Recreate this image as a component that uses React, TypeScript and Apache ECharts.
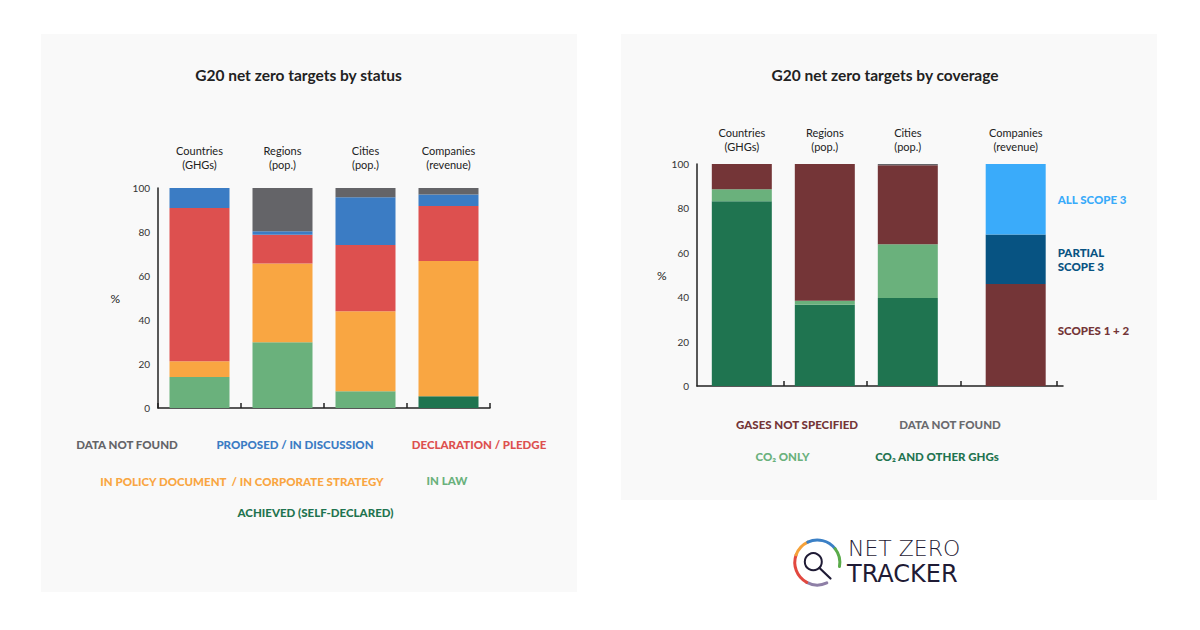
import { useEffect, useRef } from "react";
import * as echarts from "echarts";

// ---------- data: status chart ----------
const statusCategories = ["Countries\n(GHGs)", "Regions\n(pop.)", "Cities\n(pop.)", "Companies\n(revenue)"];
const achievedSelfDeclared = [0, 0, 0, 5.3];
const inLaw = [14.1, 29.9, 7.6, 0];
const inPolicyDocument = [7.2, 35.8, 36.4, 61.5];
const declarationPledge = [69.6, 13.1, 30.1, 25.0];
const proposedInDiscussion = [9.1, 1.5, 21.7, 5.3];
const statusDataNotFound = [0, 19.7, 4.2, 2.9];

// ---------- data: coverage chart ----------
const coverageCategories = ["Countries\n(GHGs)", "Regions\n(pop.)", "Cities\n(pop.)", "Companies\n(revenue)"];
const co2AndOtherGhgs = [83.2, 36.6, 39.6, 0];
const co2Only = [5.4, 1.8, 24.2, 0];
const gasesNotSpecified = [11.4, 61.6, 35.6, 0];
const coverageDataNotFound = [0, 0, 0.6, 0];
const scopes12 = [0, 0, 0, 45.9];
const partialScope3 = [0, 0, 0, 22.3];
const allScope3 = [0, 0, 0, 31.8];

// ---------- layout (slot positions on the coverage x axis) ----------
const coverageSlots = [0.54, 1.54, 2.54, 3.84];
const coverageTickPositions = [1.05, 2.05, 3.18, 4.34];
const coverageAxisMax = 4.41;

const FONT = "Lato, 'Open Sans', sans-serif";
const INK = "#222";
const C = {
  gray: "#646468",
  blue: "#3b7cc4",
  red: "#dd504f",
  orange: "#f9a642",
  lightGreen: "#6ab17c",
  darkGreen: "#1f7450",
  maroon: "#743537",
  darkBlue: "#075382",
  lightBlue: "#3aabfa",
};

function nearestSlot(v: number) {
  let best = 0;
  coverageSlots.forEach((s, i) => {
    if (Math.abs(s - v) < Math.abs(coverageSlots[best] - v)) best = i;
  });
  return best;
}

function statusBar(name: string, data: number[], color: string) {
  return {
    type: "bar",
    name,
    stack: "status",
    xAxisIndex: 0,
    yAxisIndex: 0,
    barWidth: 60,
    data,
    itemStyle: { color },
  };
}

function coverageBar(name: string, data: number[], color: string, labelText?: string, labelOffset?: number[]) {
  return {
    type: "bar",
    name,
    stack: "coverage",
    xAxisIndex: 2,
    yAxisIndex: 1,
    barWidth: 60,
    encode: { x: 1, y: 0 },
    data: data.map((v, i) => {
      const item: any = { value: [v, coverageSlots[i]] };
      if (labelText && i === 3) {
        item.label = {
          show: true,
          position: "right",
          distance: 12,
          formatter: labelText,
          color,
          fontFamily: FONT,
          fontWeight: 900,
          fontSize: 11.5,
          lineHeight: 14,
          align: "left",
          offset: labelOffset || [0, 0],
        };
      }
      return item;
    }),
    itemStyle: { color },
  };
}

function yAxisCfg(gridIndex: number, nameGap: number) {
  return {
    type: "value",
    gridIndex,
    min: 0,
    max: 100,
    interval: 20,
    name: "%",
    nameLocation: "middle",
    nameRotate: 0,
    nameGap,
    nameTextStyle: { color: INK, fontFamily: FONT, fontSize: 12 },
    axisLine: { show: true, lineStyle: { color: INK, width: 1.5 } },
    axisTick: { show: false },
    splitLine: { show: false },
    axisLabel: { color: "#333", fontFamily: FONT, fontSize: 10, margin: 8 },
  };
}

function legendText(text: string, x: number, y: number, color: string) {
  return {
    type: "text",
    x,
    y,
    style: {
      text,
      fill: color,
      fontFamily: FONT,
      fontWeight: 900,
      fontSize: 11.5,
      align: "center",
      verticalAlign: "middle",
    },
  };
}

function arc(cx: number, cy: number, r: number, a0: number, a1: number, color: string) {
  return {
    type: "arc",
    shape: { cx, cy, r, startAngle: (a0 * Math.PI) / 180, endAngle: (a1 * Math.PI) / 180, clockwise: true },
    style: { stroke: color, lineWidth: 3, fill: "none", lineCap: "round" },
  };
}

export default function App() {
  const ref = useRef<HTMLDivElement>(null);

  useEffect(() => {
    if (!ref.current) return;
    const chart = echarts.init(ref.current, undefined, { renderer: "svg" });

    const option: any = {
      animation: false,
      backgroundColor: "#ffffff",
      textStyle: { fontFamily: FONT },
      grid: [
        { left: 158, top: 188, width: 332, height: 220, containLabel: false },
        { left: 697, top: 164, width: 366, height: 222, containLabel: false },
      ],
      xAxis: [
        {
          type: "category",
          gridIndex: 0,
          data: statusCategories,
          axisLine: { lineStyle: { color: INK, width: 1.5 } },
          axisTick: { show: true, inside: true, length: 5, lineStyle: { color: INK, width: 1.5 } },
          axisLabel: { show: false },
        },
        {
          type: "category",
          gridIndex: 0,
          position: "top",
          data: statusCategories,
          axisLine: { show: false },
          axisTick: { show: false },
          axisLabel: { interval: 0, color: INK, fontFamily: FONT, fontSize: 11, lineHeight: 13.5, margin: 17 },
        },
        {
          type: "value",
          gridIndex: 1,
          min: 0,
          max: coverageAxisMax,
          splitLine: { show: false },
          axisLine: { show: true, onZero: false, lineStyle: { color: INK, width: 1.5 } },
          axisTick: { show: true, inside: true, length: 5, customValues: coverageTickPositions, lineStyle: { color: INK, width: 1.5 } },
          axisLabel: { show: false },
        },
        {
          type: "value",
          gridIndex: 1,
          position: "top",
          min: 0,
          max: coverageAxisMax,
          splitLine: { show: false },
          axisLine: { show: false },
          axisTick: { show: false },
          axisLabel: {
            show: true,
            customValues: coverageSlots,
            formatter: (v: number) => coverageCategories[nearestSlot(v)],
            color: INK,
            fontFamily: FONT,
            fontSize: 11,
            lineHeight: 14,
            margin: 11,
          },
        },
      ],
      yAxis: [yAxisCfg(0, 38), yAxisCfg(1, 28)],
      series: [
        statusBar("Achieved (self-declared)", achievedSelfDeclared, C.darkGreen),
        statusBar("In law", inLaw, C.lightGreen),
        statusBar("In policy document / in corporate strategy", inPolicyDocument, C.orange),
        statusBar("Declaration / pledge", declarationPledge, C.red),
        statusBar("Proposed / in discussion", proposedInDiscussion, C.blue),
        statusBar("Data not found", statusDataNotFound, C.gray),
        coverageBar("CO2 and other GHGs", co2AndOtherGhgs, C.darkGreen),
        coverageBar("CO2 only", co2Only, C.lightGreen),
        coverageBar("Gases not specified", gasesNotSpecified, C.maroon),
        coverageBar("Data not found (coverage)", coverageDataNotFound, C.gray),
        coverageBar("Scopes 1 + 2", scopes12, C.maroon, "SCOPES 1 + 2", [0, -5]),
        coverageBar("Partial scope 3", partialScope3, C.darkBlue, "PARTIAL\nSCOPE 3"),
        coverageBar("All scope 3", allScope3, C.lightBlue, "ALL SCOPE 3"),
      ],
      graphic: [
        { type: "rect", z: -10, shape: { x: 41, y: 34, width: 536, height: 558 }, style: { fill: "#f9f9f9" } },
        { type: "rect", z: -10, shape: { x: 621, y: 34, width: 536, height: 466 }, style: { fill: "#f9f9f9" } },
        {
          type: "text",
          x: 298.5,
          y: 75,
          style: { text: "G20 net zero targets by status", fill: INK, fontFamily: FONT, fontWeight: "bold", fontSize: 15.5, align: "center", verticalAlign: "middle" },
        },
        {
          type: "text",
          x: 885,
          y: 75,
          style: { text: "G20 net zero targets by coverage", fill: INK, fontFamily: FONT, fontWeight: "bold", fontSize: 15.5, align: "center", verticalAlign: "middle" },
        },
        legendText("DATA NOT FOUND", 127, 444.5, C.gray),
        legendText("PROPOSED / IN DISCUSSION", 295, 444.5, C.blue),
        legendText("DECLARATION / PLEDGE", 479, 444.5, C.red),
        legendText("IN POLICY DOCUMENT  / IN CORPORATE STRATEGY", 242, 481.5, C.orange),
        legendText("IN LAW", 447, 480, C.lightGreen),
        legendText("ACHIEVED (SELF-DECLARED)", 315.5, 512.5, C.darkGreen),
        legendText("GASES NOT SPECIFIED", 797, 424.5, C.maroon),
        legendText("DATA NOT FOUND", 950, 424.5, "#6a6a6e"),
        legendText("CO₂ ONLY", 782.5, 456.5, C.lightGreen),
        legendText("CO₂ AND OTHER GHGs", 937, 456.5, C.darkGreen),
        // logo
        arc(817.3, 562.5, 22.5, 65, 118, "#8e7fa6"),
        arc(817.3, 562.5, 22.5, 118, 200, "#e2483f"),
        arc(817.3, 562.5, 22.5, 200, 245, "#f6a23a"),
        arc(817.3, 562.5, 22.5, 245, 322, "#3b80c6"),
        arc(817.3, 562.5, 22.5, 322, 370, "#5aab4a"),
        { type: "circle", shape: { cx: 813.3, cy: 561.7, r: 8.5 }, style: { fill: "none", stroke: "#1f1b35", lineWidth: 2 } },
        { type: "line", shape: { x1: 819.5, y1: 568, x2: 830.5, y2: 578.5 }, style: { stroke: "#1f1b35", lineWidth: 2.2, lineCap: "round" } },
        {
          type: "text",
          x: 848,
          y: 548,
          style: { text: "NET ZERO", fill: "#1f1b35", fontFamily: "'DejaVu Sans', sans-serif", fontWeight: 200, fontSize: 22, align: "left", verticalAlign: "middle" },
        },
        {
          type: "text",
          x: 847,
          y: 573.5,
          style: { text: "TRACKER", fill: "#1f1b35", fontFamily: "'DejaVu Sans', sans-serif", fontWeight: "normal", fontSize: 24, align: "left", verticalAlign: "middle" },
        },
      ],
    };

    chart.setOption(option);
    return () => chart.dispose();
  }, []);

  return <div ref={ref} style={{ position: "fixed", left: 0, top: 0, width: 1200, height: 630 }} />;
}
